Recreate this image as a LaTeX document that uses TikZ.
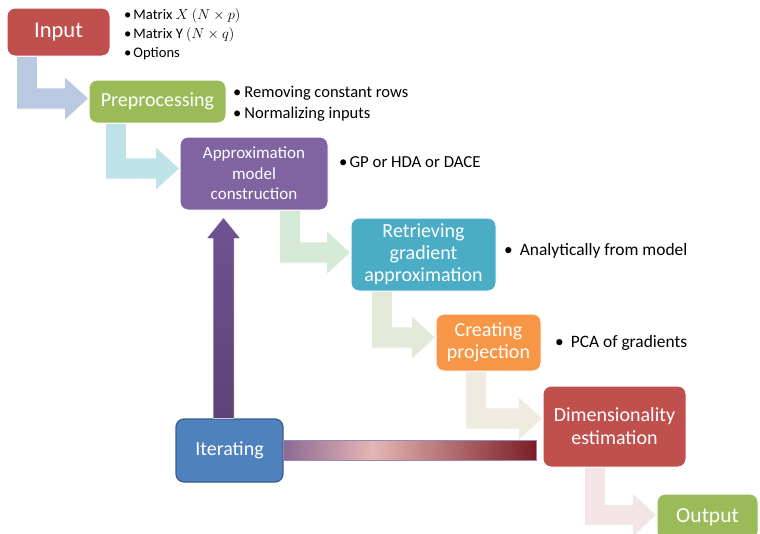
\documentclass[tikz,border=0pt]{standalone}
\usepackage{fontspec}
\setmainfont{Carlito}
\usetikzlibrary{backgrounds,calc}
\definecolor{cRed}{HTML}{C0504D}
\definecolor{cGreen}{HTML}{9BBB59}
\definecolor{cPurple}{HTML}{8064A2}
\definecolor{cTeal}{HTML}{4BACC6}
\definecolor{cOrange}{HTML}{F79646}
\definecolor{cBlue}{HTML}{4F81BD}
\definecolor{cBlueEdge}{HTML}{385D8A}
\definecolor{aBlue}{HTML}{BAC8E2}
\definecolor{aTeal}{HTML}{BFE2E9}
\definecolor{aGreen}{HTML}{D4EAD6}
\definecolor{aOlive}{HTML}{E3E9D8}
\definecolor{aBeige}{HTML}{EFEBE1}
\definecolor{aPink}{HTML}{F3E5E5}
\definecolor{upTop}{HTML}{6F5291}
\definecolor{upBot}{HTML}{5D4377}
\definecolor{barL}{HTML}{8C6A93}
\definecolor{barP}{HTML}{E4B6B5}
\definecolor{barR}{HTML}{7A1E24}
\definecolor{barEdge}{HTML}{9A86B8}
\tikzset{
  box/.style={rounded corners=8pt, draw=white, line width=1pt, text=white,
    align=center, inner sep=0pt},
  bul/.style={anchor=west, align=left, inner sep=0pt, text=black},
}
\newcommand\blockarrow[5]{%
  \fill[#5, draw=white, line width=0.6pt]
    let \p1=(#1.south west), \p2=($(#3.west)+(0,#4)$) in
    (\x1+#2pt,\y1) -- (\x1+#2pt,\y2-10.5pt) -- (\x2-24pt,\y2-10.5pt)
    -- (\x2-24pt,\y2-22pt) -- (\x2,\y2) -- (\x2-24pt,\y2+22pt)
    -- (\x2-24pt,\y2+10.5pt) -- (\x1+#2pt+21pt,\y2+10.5pt)
    -- (\x1+#2pt+21pt,\y1) -- cycle;}
\begin{document}
\begin{tikzpicture}[x=1pt,y=-1pt]
\clip (0,0) rectangle (760,533);

% boxes
\node[box, fill=cRed, minimum width=103, minimum height=48,
  font=\fontsize{22.5}{25}\selectfont] (input) at (58.5,32) {Input};
\node[box, fill=cGreen, minimum width=137, minimum height=43,
  font=\fontsize{20}{22}\selectfont] (prep) at (157.5,101.5) {Preprocessing};
\node[box, fill=cPurple, minimum width=148, minimum height=73,
  font=\fontsize{17}{20.5}\selectfont] (approx) at (254,173.5)
  {Approximation\\model\\construction};
\node[box, fill=cTeal, minimum width=145, minimum height=73,
  font=\fontsize{20}{22}\selectfont] (retr) at (423.5,254.5)
  {Retrieving\\gradient\\approximation};
\node[box, fill=cOrange, minimum width=105, minimum height=57,
  font=\fontsize{20}{22}\selectfont] (creat) at (488.5,342.5)
  {Creating\\projection};
\node[box, fill=cRed, minimum width=143, minimum height=81,
  font=\fontsize{20}{23}\selectfont] (dim) at (614.5,426.5)
  {Dimensionality\\estimation};
\node[box, fill=cGreen, minimum width=101, minimum height=46,
  font=\fontsize{21.5}{24}\selectfont] (out) at (707.5,517) {Output};
\node[box, fill=cBlue, draw=cBlueEdge, line width=1.2pt, minimum width=107,
  minimum height=63, font=\fontsize{20}{23}\selectfont] (iter) at (229.5,450.5)
  {Iterating};

% bullet texts
\node[bul, font=\fontsize{14.6}{19}\selectfont] (b1) at (124,34)
  {\textbullet\hspace{2pt}Matrix $X$ $(N\times p)$\\
   \textbullet\hspace{2pt}Matrix Y $(N\times q)$\\
   \textbullet\hspace{2pt}Options};
\node[bul, font=\fontsize{16.5}{21}\selectfont] (b2) at (233,103.5)
  {\textbullet\hspace{3pt}Removing constant rows\\
   \textbullet\hspace{3pt}Normalizing inputs};
\node[bul, font=\fontsize{16.8}{21}\selectfont] (b3) at (339,162)
  {\textbullet\hspace{2pt}GP or HDA or DACE};
\node[bul, font=\fontsize{17.4}{21}\selectfont] (b4) at (504,251)
  {\textbullet\hspace{7pt}Analytically from model};
\node[bul, font=\fontsize{17.4}{21}\selectfont] (b5) at (555,343)
  {\textbullet\hspace{7pt}PCA of gradients};

\begin{pgfonlayer}{background}
  \blockarrow{input}{10}{prep}{-3}{aBlue}
  \blockarrow{prep}{17}{approx}{-5}{aTeal}
  \blockarrow{approx}{100}{retr}{-2}{aGreen}
  \blockarrow{retr}{21}{creat}{-5}{aOlive}
  \blockarrow{creat}{30}{dim}{-8}{aBeige}
  \blockarrow{dim}{42}{out}{-2}{aPink}
\end{pgfonlayer}

% upward arrow from Iterating to the model construction
\shade[top color=upTop, bottom color=upBot, draw=white, line width=0.5pt]
  let \p1=($(iter.north)+(-6,0)$), \p2=(approx.south) in
  (\x1-10.5pt,\y1) -- (\x1-10.5pt,\y2-28pt) -- (\x1-17pt,\y2-28pt)
  -- (\x1,\y2-7pt) -- (\x1+17pt,\y2-28pt) -- (\x1+10.5pt,\y2-28pt)
  -- (\x1+10.5pt,\y1) -- cycle;

% gradient bar from Iterating to Dimensionality estimation
\coordinate (barTL) at ($(iter.east)+(0,-10)$);
\coordinate (barMB) at ($(iter.east)+(89,10)$);
\coordinate (barMT) at ($(iter.east)+(89,-10)$);
\coordinate (barBR) at ($(dim.west |- iter.east)+(-6,10)$);
\shade[left color=barL, right color=barP] (barTL) rectangle (barMB);
\shade[left color=barP, right color=barR] (barMT) rectangle (barBR);
\draw[barEdge, line width=0.6pt] (barTL) rectangle (barBR);
\end{tikzpicture}
\end{document}
